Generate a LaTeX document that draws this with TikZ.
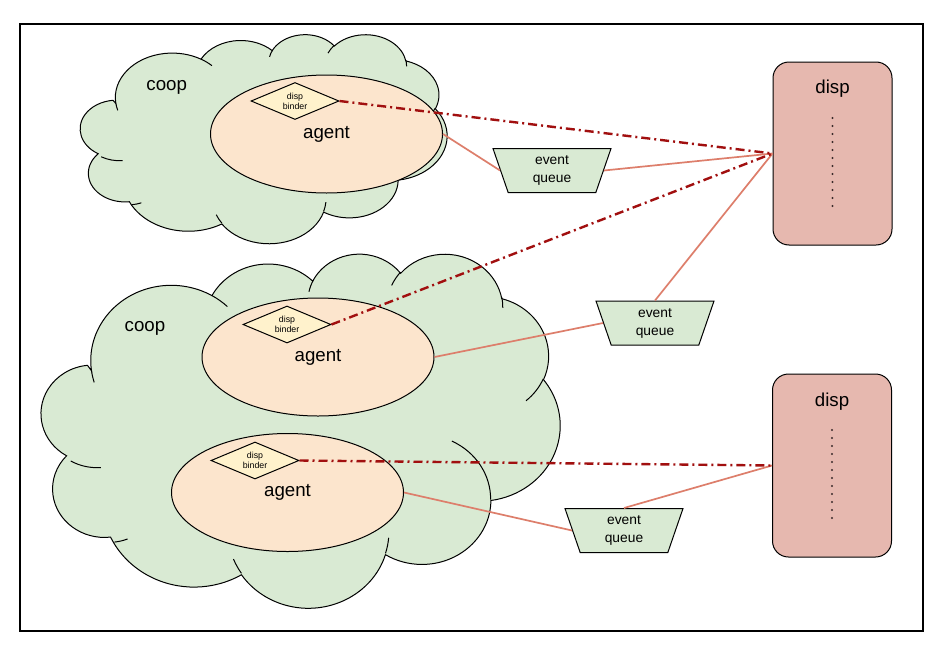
\documentclass[tikz,border=0pt]{standalone}
\usepackage{fontspec}
\setmainfont{Liberation Sans}
\usetikzlibrary{shapes.geometric}
\definecolor{cloudg}{HTML}{D9EAD3}
\definecolor{agentc}{HTML}{FCE5CD}
\definecolor{binderc}{HTML}{FFF2CC}
\definecolor{queuec}{HTML}{D9EAD3}
\definecolor{dispc}{HTML}{E6B8AF}
\definecolor{linkc}{HTML}{DD7E6B}
\definecolor{bindc}{HTML}{A10F0F}
\definecolor{dotc}{HTML}{3A2A2A}
% visual (OOXML) angle -> parametric angle
\newcommand\ooprep[6]{%
  \pgfmathsetmacro#1{atan2((#3)*sin(#5),(#4)*cos(#5))}%
  \pgfmathsetmacro\ootmpE{atan2((#3)*sin((#5)+(#6)),(#4)*cos((#5)+(#6)))}%
  \pgfmathsetmacro#2{mod(\ootmpE-#1+720,360)}%
}
\ooprep\oSa\oDa{67.53}{91.90}{-190.48748}{123.78053}
\ooprep\oSb\oDb{53.33}{72.67}{-144.10238}{89.94523}
\ooprep\oSc\oDc{43.65}{59.45}{-145.80792}{99.72302}
\ooprep\oSd\oDd{48.57}{65.95}{-130.98607}{117.24173}
\ooprep\oSe\oDe{53.33}{72.73}{-78.70888}{109.02692}
\ooprep\oSf\oDf{67.75}{92.20}{-46.26725}{130.26900}
\ooprep\oSg\oDg{57.85}{78.67}{0.62502}{114.03333}
\ooprep\oSh\oDh{67.52}{92.15}{22.45160}{115.17255}
\ooprep\oSi\oDi{77.20}{105.43}{66.24263}{81.37030}
\ooprep\oSj\oDj{43.60}{59.18}{-274.94208}{146.73557}
\ooprep\oSk\oDk{43.45}{59.45}{-246.82850}{152.51885}
\ooprep\iSa\iDa{43.45}{59.45}{86.74200}{26.42950}
\ooprep\iSb\iDb{43.60}{59.18}{73.61047}{11.44747}
\ooprep\iSc\iDc{67.52}{92.15}{137.62415}{14.08110}
\ooprep\iSd\iDd{67.52}{92.15}{6.45327}{15.99835}
\ooprep\iSe\iDe{57.85}{78.67}{-70.29235}{70.91737}
\ooprep\iSf\iDf{53.33}{72.73}{30.31803}{27.75150}
\ooprep\iSg\iDg{48.57}{65.95}{-13.74433}{14.85890}
\ooprep\iSh\iDh{48.57}{65.95}{-149.18145}{18.19537}
\ooprep\iSi\iDi{43.65}{59.45}{-163.49427}{17.68635}
\ooprep\iSj\iDj{67.53}{91.90}{-66.70695}{12.31935}
\ooprep\iSk\iDk{67.53}{91.90}{157.65435}{11.85817}
% cloud: #1,#2 top-left corner, #3,#4 unit scales (w/432, h/432)
\newcommand\officecloud[4]{%
  \begin{scope}[shift={(#1,#2)},x=#3pt,y=-#4pt]
    \path[cloudshape] (39.00,143.70)
      arc[start angle=\oSa,delta angle=\oDa,x radius=67.53,y radius=91.90]
      arc[start angle=\oSb,delta angle=\oDb,x radius=53.33,y radius=72.67]
      arc[start angle=\oSc,delta angle=\oDc,x radius=43.65,y radius=59.45]
      arc[start angle=\oSd,delta angle=\oDd,x radius=48.57,y radius=65.95]
      arc[start angle=\oSe,delta angle=\oDe,x radius=53.33,y radius=72.73]
      arc[start angle=\oSf,delta angle=\oDf,x radius=67.75,y radius=92.20]
      arc[start angle=\oSg,delta angle=\oDg,x radius=57.85,y radius=78.67]
      arc[start angle=\oSh,delta angle=\oDh,x radius=67.52,y radius=92.15]
      arc[start angle=\oSi,delta angle=\oDi,x radius=77.20,y radius=105.43]
      arc[start angle=\oSj,delta angle=\oDj,x radius=43.60,y radius=59.18]
      arc[start angle=\oSk,delta angle=\oDk,x radius=43.45,y radius=59.45]
      -- cycle;
    \path[cloudinner]
      (46.93,261.77) arc[start angle=\iSa,delta angle=\iDa,x radius=43.45,y radius=59.45]
      (69.28,348.99) arc[start angle=\iSb,delta angle=\iDb,x radius=43.60,y radius=59.18]
      (164.78,390.90) arc[start angle=\iSc,delta angle=\iDc,x radius=67.52,y radius=92.15]
      (288.27,347.51) arc[start angle=\iSd,delta angle=\iDd,x radius=67.52,y radius=92.15]
      (341.29,229.54) arc[start angle=\iSe,delta angle=\iDe,x radius=57.85,y radius=78.67]
      (417.98,153.54) arc[start angle=\iSf,delta angle=\iDf,x radius=53.33,y radius=72.73]
      (383.24,54.26) arc[start angle=\iSg,delta angle=\iDg,x radius=48.57,y radius=65.95]
      (290.78,39.52) arc[start angle=\iSh,delta angle=\iDh,x radius=48.57,y radius=65.95]
      (221.41,47.20) arc[start angle=\iSi,delta angle=\iDi,x radius=43.65,y radius=59.45]
      (140.00,51.92) arc[start angle=\iSj,delta angle=\iDj,x radius=67.53,y radius=91.90]
      (41.27,157.89) arc[start angle=\iSk,delta angle=\iDk,x radius=67.53,y radius=91.90];
  \end{scope}}
\begin{document}
\begin{tikzpicture}[x=1pt,y=-1pt,
  cloudshape/.style={fill=cloudg,draw=black,line width=1pt},
  cloudinner/.style={draw=black,line width=1pt},
  agentbox/.style={ellipse,draw=black,line width=1pt,fill=agentc,minimum width=232pt,minimum height=118pt,inner sep=0pt,font=\fontsize{18.7}{22}\selectfont},
  binder/.style={diamond,draw=black,line width=1pt,fill=binderc,minimum width=88pt,minimum height=37pt,aspect=2.4,inner sep=0pt,align=center,font=\fontsize{8.8}{10}\selectfont},
  queuebox/.style={trapezium,trapezium left angle=117,trapezium right angle=117,trapezium stretches body,draw=black,line width=1pt,fill=queuec,minimum width=118pt,minimum height=44pt,inner sep=0pt,align=center,font=\fontsize{13.8}{18}\selectfont},
  dispbox/.style={rectangle,rounded corners=16pt,draw=black,line width=1pt,fill=dispc,minimum width=119pt,minimum height=183pt},
  bigtext/.style={font=\fontsize{18.7}{22}\selectfont,inner sep=0pt},
  link/.style={draw=linkc,line width=1.7pt},
  bindlink/.style={draw=bindc,line width=2.4pt,dash pattern=on 9pt off 4pt on 2pt off 4pt},
]
\useasboundingbox (0,0) rectangle (942,653);
\fill[white] (0,0) rectangle (942,653);
\draw[black,line width=1.2pt] (20,24) rectangle (923,631);

% clouds
\officecloud{83}{34}{0.842593}{0.483796}
\officecloud{45}{253}{1.192130}{0.819444}
\node[bigtext] (c1) at (166.7,87.5) {coop};
\node[bigtext] (c2) at (145,328) {coop};

% agents
\node[agentbox] (a1) at (326.5,134) {agent};
\node[agentbox] (a2) at (318,357) {agent};
\node[agentbox] (a3) at (287.5,492.5) {agent};

% binders
\node[binder] (b1) at (295,101) {disp\\binder};
\node[binder] (b2) at (287,324.5) {disp\\binder};
\node[binder] (b3) at (255,460.5) {disp\\binder};

% event queues
\node[queuebox] (q1) at (552,170.5) {event\\queue};
\node[queuebox] (q2) at (655,323) {event\\queue};
\node[queuebox] (q3) at (624,530.5) {event\\queue};

% dispatchers
\node[dispbox] (d1) at (832.5,153.5) {};
\node[bigtext] (d1l) at (832.5,89) {disp};
\foreach \i in {0,...,11} \fill[dotc] (832.5,118+8*\i) circle[radius=1.2pt];
\node[dispbox] (d2) at (832,465.5) {};
\node[bigtext] (d2l) at (832,402) {disp};
\foreach \i in {0,...,11} \fill[dotc] (832,430+8*\i) circle[radius=1.2pt];

% connectors
\draw[link] (a1.east) -- (q1.left side);
\draw[link] (q1.right side) -- (d1.west);
\draw[link] (a2.east) -- (q2.left side);
\draw[link] (q2.top side) -- (d1.west);
\draw[link] (a3.east) -- (q3.left side);
\draw[link] (q3.top side) -- (d2.west);
\draw[bindlink] (b1.east) -- (d1.west);
\draw[bindlink] (b2.east) -- (d1.west);
\draw[bindlink] (b3.east) -- (d2.west);
\end{tikzpicture}
\end{document}
